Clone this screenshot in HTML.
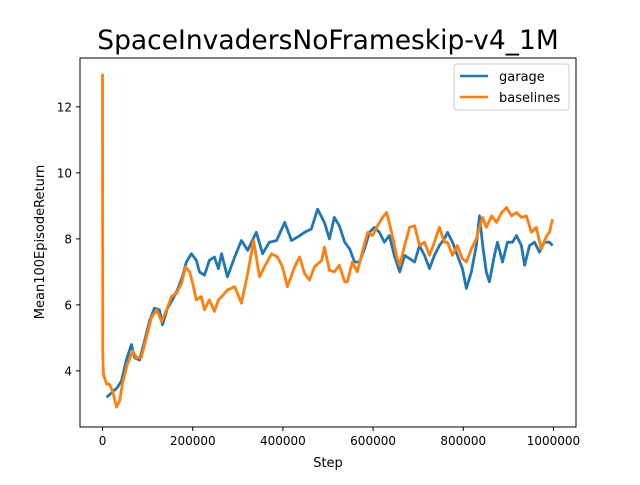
<!DOCTYPE html>
<html><head><meta charset="utf-8"><style>
body{margin:0;background:#fff;}
svg text{font-family:"DejaVu Sans","Liberation Sans",sans-serif;}
</style></head><body>
<svg id="chart" width="640" height="480" xmlns="http://www.w3.org/2000/svg">
<rect width="640" height="480" fill="#fff"/>
<text x="328" y="49" font-size="26.5" text-anchor="middle">SpaceInvadersNoFrameskip-v4_1M</text>
<g id="plot"></g>
<rect x="80" y="58" width="496" height="369" fill="none" stroke="#000" stroke-width="1"/>
<g id="xt"></g><g id="yt"></g>
<text x="328" y="467" font-size="13" text-anchor="middle">Step</text>
<text transform="translate(44,242) rotate(-90)" font-size="13" text-anchor="middle">Mean100EpisodeReturn</text>
<g>
<rect x="454" y="64" width="115" height="46" rx="3" fill="#fff" fill-opacity="0.8" stroke="#ccc"/>
<line x1="460" y1="76" x2="488" y2="76" stroke="#1f77b4" stroke-width="2.5"/>
<text x="499" y="81" font-size="13">garage</text>
<line x1="460" y1="97" x2="488" y2="97" stroke="#ff7f0e" stroke-width="2.5"/>
<text x="499" y="102" font-size="13">baselines</text>
</g>
</svg>
<script>
const garageSteps=[9000,22000,33000,42000,53000,64000,71000,82000,93000,104000,115000,126000,133000,144000,155000,166000,177000,186000,197000,208000,215000,226000,237000,248000,257000,264000,277000,293000,308000,322000,341000,355000,370000,386000,404000,419000,432000,448000,463000,477000,492000,503000,514000,525000,537000,548000,559000,570000,581000,592000,603000,614000,625000,636000,647000,659000,670000,681000,692000,703000,714000,725000,736000,747000,758000,765000,776000,787000,798000,807000,818000,829000,836000,843000,851000,858000,869000,876000,887000,898000,909000,918000,929000,936000,947000,958000,969000,980000,991000,998000];
const garageValues=[3.2,3.36,3.5,3.7,4.33,4.8,4.4,4.33,4.9,5.5,5.9,5.85,5.4,5.9,6.15,6.45,6.85,7.3,7.55,7.35,7.0,6.9,7.35,7.45,7.1,7.55,6.85,7.45,7.95,7.65,8.2,7.55,7.9,7.95,8.5,7.95,8.05,8.2,8.3,8.9,8.5,8.0,8.65,8.4,7.9,7.7,7.3,7.3,7.7,8.2,8.35,8.2,7.9,8.1,7.5,7.0,7.5,7.4,7.3,7.8,7.5,7.1,7.5,7.8,8.0,8.2,7.9,7.5,7.1,6.5,7.0,7.8,8.7,7.8,7.0,6.7,7.5,7.9,7.3,7.9,7.9,8.1,7.8,7.2,7.8,7.9,7.6,7.9,7.9,7.8];
const baseSteps=[0,500,2000,9000,15000,22000,31000,38000,44000,55000,67000,75000,86000,97000,108000,120000,131000,142000,153000,164000,175000,184000,193000,200000,208000,219000,226000,237000,248000,257000,264000,277000,293000,308000,322000,335000,348000,359000,375000,388000,399000,410000,426000,437000,448000,459000,470000,486000,492000,503000,514000,525000,537000,543000,554000,565000,576000,588000,599000,610000,621000,630000,641000,652000,659000,670000,681000,692000,703000,714000,725000,736000,747000,758000,765000,776000,787000,798000,807000,818000,829000,836000,843000,851000,863000,874000,885000,896000,907000,918000,929000,940000,951000,962000,973000,985000,991000,998000];
const baseValues=[13.0,4.5,3.9,3.6,3.6,3.4,2.9,3.1,3.6,4.2,4.6,4.4,4.4,5.0,5.6,5.85,5.5,5.85,6.25,6.35,6.65,7.15,7.0,6.65,6.15,6.25,5.85,6.15,5.8,6.15,6.25,6.45,6.55,6.05,6.95,7.95,6.85,7.15,7.55,7.45,7.15,6.55,7.15,7.45,6.95,6.75,7.15,7.35,7.75,7.05,7.0,7.2,6.7,6.7,7.3,7.0,7.6,8.2,8.1,8.4,8.65,8.8,8.2,7.5,7.2,7.8,8.35,8.4,7.8,7.9,7.5,7.9,8.35,7.9,7.9,7.5,7.8,7.4,7.3,7.7,8.0,8.35,8.65,8.35,8.7,8.5,8.8,8.95,8.7,8.8,8.65,8.7,8.2,8.35,7.7,8.1,8.2,8.6];
const xTicks=[0,200000,400000,600000,800000,1000000];
const yTicks=[4,6,8,10,12];
const NS="http://www.w3.org/2000/svg";
const X0=80,X1=576,Y0=427,Y1=58,XMIN=-50000,XMAX=1050000,YMIN=2.3,YMAX=13.48;
function sx(v){return X0+(v-XMIN)/(XMAX-XMIN)*(X1-X0);}
function sy(v){return Y0-(v-YMIN)/(YMAX-YMIN)*(Y0-Y1);}
const plot=document.getElementById('plot');
function series(xs,ys,color,name){
  const p=document.createElementNS(NS,'polyline');
  p.setAttribute('points',xs.map((x,i)=>sx(x).toFixed(1)+','+sy(ys[i]).toFixed(1)).join(' '));
  p.setAttribute('fill','none');p.setAttribute('stroke',color);p.setAttribute('stroke-width','2.8');
  p.setAttribute('stroke-linejoin','round');
  
  
  plot.appendChild(p);
}
series(garageSteps,garageValues,'#1f77b4','garage-line');
series(baseSteps,baseValues,'#ff7f0e','baselines-line');
const xt=document.getElementById('xt'),yt=document.getElementById('yt');
xTicks.forEach(t=>{
  const l=document.createElementNS(NS,'line');
  l.setAttribute('x1',sx(t));l.setAttribute('x2',sx(t));l.setAttribute('y1',Y0);l.setAttribute('y2',Y0+4);l.setAttribute('stroke','#000');
  
  
  xt.appendChild(l);
  const s=document.createElementNS(NS,'text');
  s.setAttribute('x',sx(t));s.setAttribute('y',Y0+18);s.setAttribute('font-size','12');s.setAttribute('text-anchor','middle');
  s.textContent=String(t);
  
  
  xt.appendChild(s);
});
yTicks.forEach(t=>{
  const l=document.createElementNS(NS,'line');
  l.setAttribute('x1',X0-4);l.setAttribute('x2',X0);l.setAttribute('y1',sy(t));l.setAttribute('y2',sy(t));l.setAttribute('stroke','#000');
  
  
  yt.appendChild(l);
  const s=document.createElementNS(NS,'text');
  s.setAttribute('x',X0-8);s.setAttribute('y',sy(t)+4.5);s.setAttribute('font-size','12');s.setAttribute('text-anchor','end');
  s.textContent=String(t);
  
  
  yt.appendChild(s);
});
</script>
</body></html>
